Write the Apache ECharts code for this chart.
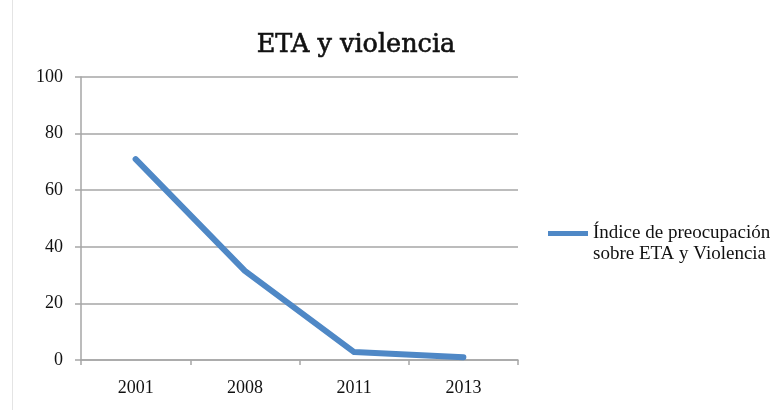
<!DOCTYPE html>
<html>
<head>
<meta charset="utf-8">
<script src="https://cdn.jsdelivr.net/npm/echarts@6/dist/echarts.min.js"></script>
<style>html,body{margin:0;padding:0;background:#fff}#c{width:777px;height:410px}</style>
</head>
<body>
<div id="c"></div>
<script>
const categories = ['2001', '2008', '2011', '2013'];
const seriesName = 'Índice de preocupación\nsobre ETA y Violencia';
const values = [71, 31.5, 2.8, 1];
const yTicks = [0, 20, 40, 60, 80, 100];

const chart = echarts.init(document.getElementById('c'));
const serif = 'Liberation Serif';
chart.setOption({
  animation: false,
  title: {
    text: 'ETA y violencia',
    left: 351, top: 27, textAlign: 'center',
    textStyle: { fontFamily: 'DejaVu Serif', fontSize: 25.5, fontWeight: 'normal', color: '#111',
      textBorderColor: '#111', textBorderWidth: 0.6 }
  },
  legend: {
    left: 548, top: 202, padding: 0,
    icon: 'rect', itemWidth: 40, itemHeight: 5,
    data: [seriesName],
    formatter: n => ' \n' + n,
    textStyle: { fontFamily: serif, fontSize: 19, color: '#111', lineHeight: 21 }
  },
  grid: { left: 81, right: 259, top: 77, bottom: 50 },
  xAxis: {
    type: 'category', data: categories, boundaryGap: true,
    axisLine: { lineStyle: { color: '#a6a6a6', width: 1.5 } },
    axisTick: { show: true, length: 5, lineStyle: { color: '#a6a6a6', width: 1.5 } },
    axisLabel: { margin: 19, fontFamily: serif, fontSize: 18, color: '#111' }
  },
  yAxis: {
    type: 'value', min: 0, max: 100, interval: 20,
    axisLine: { show: true, lineStyle: { color: '#a6a6a6', width: 1.5 } },
    axisTick: { show: true, length: 6, lineStyle: { color: '#a6a6a6', width: 1.5 } },
    splitLine: { lineStyle: { color: '#a6a6a6', width: 1.5 } },
    axisLabel: { margin: 18, fontFamily: serif, fontSize: 18, color: '#111',
      formatter: v => yTicks.includes(v) ? String(v) : '' }
  },
  graphic: [{ type: 'line', shape: { x1: 12.5, y1: 0, x2: 12.5, y2: 410 }, style: { stroke: '#e4e4e4', lineWidth: 1 } }],
  series: [{
    name: seriesName, type: 'line', data: values,
    showSymbol: false, symbol: 'none',
    lineStyle: { color: '#4f88c6', width: 6, cap: 'round', join: 'round' },
    itemStyle: { color: '#4f88c6' }
  }]
});
</script>
</body>
</html>
